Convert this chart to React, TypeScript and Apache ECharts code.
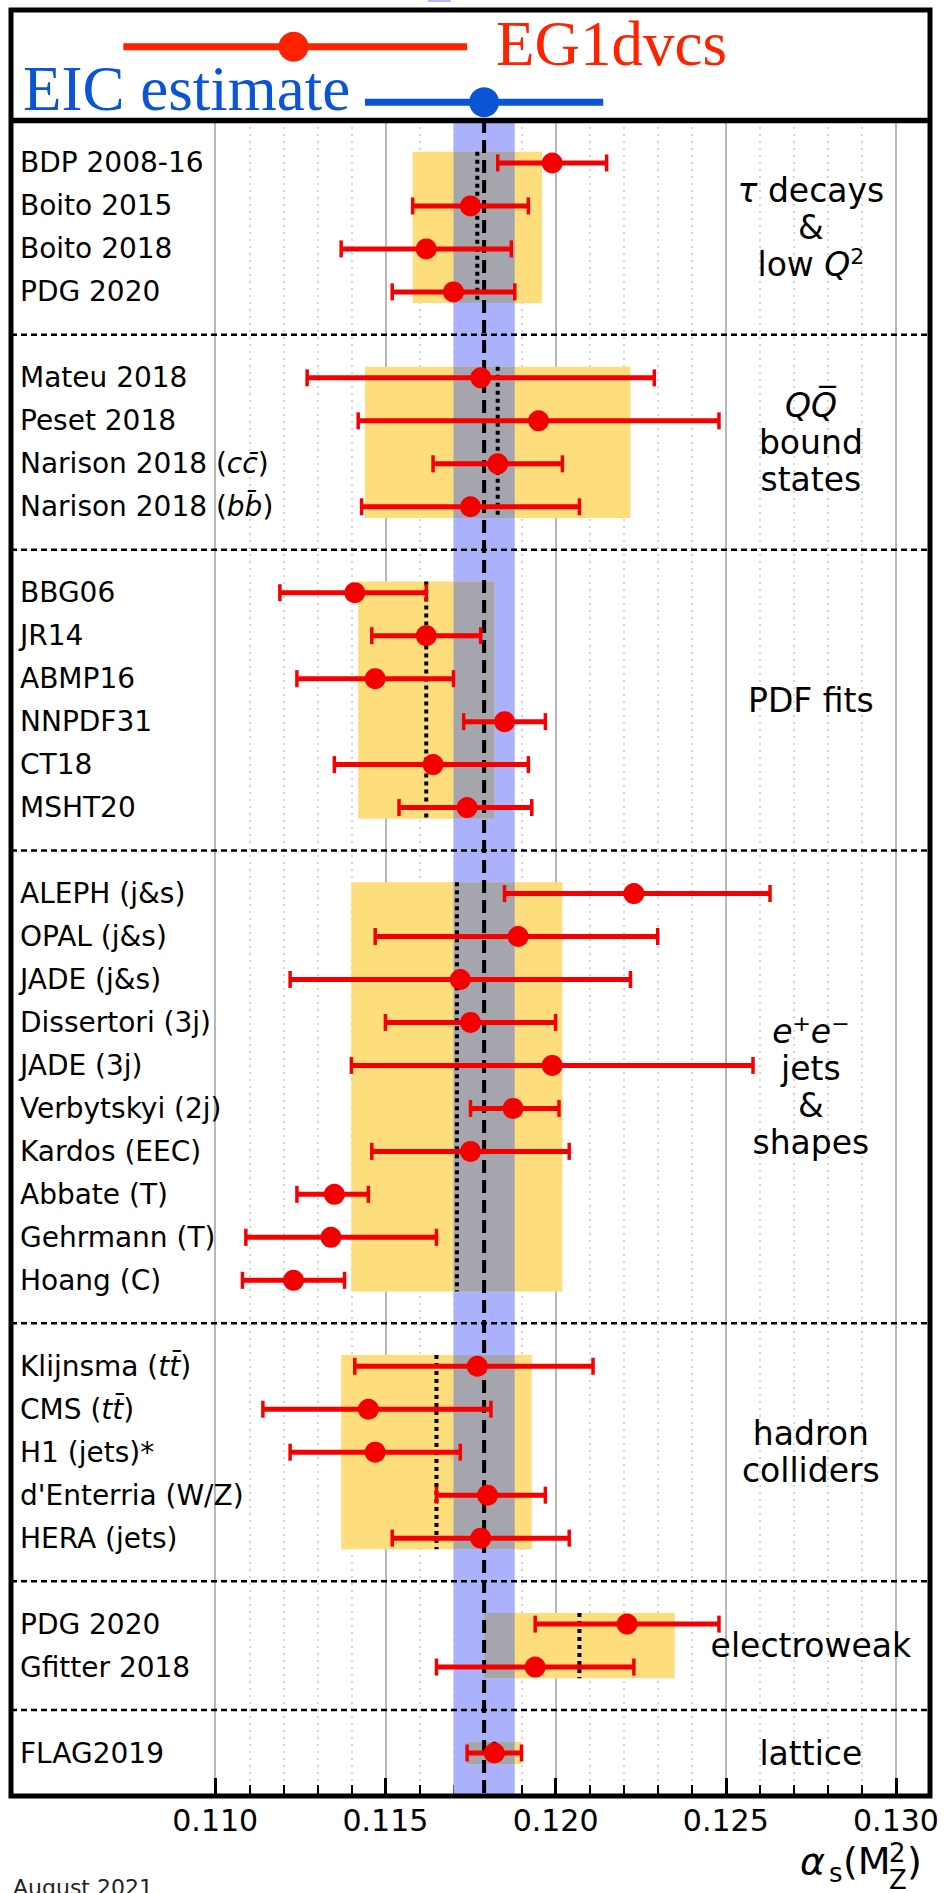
import React, { useEffect, useRef } from 'react';
import * as echarts from 'echarts';

// ---- measurements, top to bottom ----
const measurementLabels = [
  'BDP 2008-16', 'Boito 2015', 'Boito 2018', 'PDG 2020',
  'Mateu 2018', 'Peset 2018', 'Narison 2018 (cc\u0304)', 'Narison 2018 (bb\u0304)',
  'BBG06', 'JR14', 'ABMP16', 'NNPDF31', 'CT18', 'MSHT20',
  'ALEPH (j&s)', 'OPAL (j&s)', 'JADE (j&s)', 'Dissertori (3j)', 'JADE (3j)',
  'Verbytskyi (2j)', 'Kardos (EEC)', 'Abbate (T)', 'Gehrmann (T)', 'Hoang (C)',
  'Klijnsma (tt\u0304)', 'CMS (tt\u0304)', 'H1 (jets)*', "d'Enterria (W/Z)", 'HERA (jets)',
  'PDG 2020', 'Gfitter 2018',
  'FLAG2019',
];
const measurementValues = [
  0.1199, 0.1175, 0.1162, 0.1170,
  0.1178, 0.1195, 0.1183, 0.1175,
  0.1141, 0.1162, 0.1147, 0.1185, 0.1164, 0.1174,
  0.1223, 0.1189, 0.1172, 0.1175, 0.1199, 0.11875, 0.1175, 0.1135, 0.1134, 0.1123,
  0.1177, 0.1145, 0.1147, 0.1180, 0.1178,
  0.1221, 0.1194,
  0.1182,
];
const measurementLow = [
  0.1183, 0.1158, 0.1137, 0.1152,
  0.1127, 0.1142, 0.1164, 0.1143,
  0.1119, 0.1146, 0.1124, 0.1173, 0.1135, 0.1154,
  0.1185, 0.1147, 0.1122, 0.1150, 0.1140, 0.1175, 0.1146, 0.1124, 0.1109, 0.1108,
  0.1141, 0.1114, 0.1122, 0.1165, 0.1152,
  0.1194, 0.1165,
  0.1174,
];
const measurementHigh = [
  0.1215, 0.1192, 0.1187, 0.1188,
  0.1229, 0.1248, 0.1202, 0.1207,
  0.1162, 0.1178, 0.1170, 0.1197, 0.1192, 0.1193,
  0.1263, 0.1230, 0.1222, 0.1200, 0.1258, 0.1201, 0.1204, 0.1145, 0.1165, 0.1138,
  0.1211, 0.1181, 0.1172, 0.1197, 0.1204,
  0.1248, 0.1223,
  0.1190,
];

// ---- categories (pre-averages) ----
const groupSizes = [4, 4, 6, 10, 5, 2, 1];
const groupCaptions = [
  '{it|\u03c4} decays\n&\nlow {it|Q}{sup|2}',
  '{it|QQ\u0305}\nbound\nstates',
  'PDF fits',
  '{it|e}{sup|+}{it|e}{sup|\u2212}\njets\n&\nshapes',
  'hadron\ncolliders',
  'electroweak',
  'lattice',
];
const groupAverages = [0.1177, 0.1183, 0.1162, 0.1171, 0.1165, 0.1207, 0.1182];
const groupErrors = [0.0019, 0.0039, 0.0020, 0.0031, 0.0028, 0.0028, 0.0008];

// ---- world average ----
const worldAverage = 0.1179;
const worldError = 0.0009;

// ---- legend entries ----
const legendLabels = ['EG1dvcs', 'EIC estimate'];
const legendValues = [0.1123, 0.1179];
const legendLow = [0.1073, 0.1144];
const legendHigh = [0.1174, 0.1214];
const legendColors = ['#ff2200', '#0a55d6'];

// ---- axis ----
const X_MIN = 0.104;
const X_MAX = 0.131;
const TICK_MIN = 0.110;
const TICK_MAX = 0.130;
const TICK_STEP = 0.005;

// ---- layout ----
const W = 946;
const H = 1893;
const GRID_LEFT = 11;
const GRID_WIDTH = 919;
const PLOT_TOP = 120;
const PLOT_HEIGHT = 1676;
const BOX_TOP = 10;
const LEGEND_TOP = 19;
const LEGEND_HEIGHT = 111;
const CAPTION_X = 0.1275;
const BOX_PAD = 0.26;
const FONT = "'DejaVu Sans', sans-serif";
const SERIF = "'Liberation Serif', 'Times New Roman', serif";
const RED = '#f50000';

// row positions: one row per measurement, a separator row between categories
const rowOf: number[] = [];
const groupFirst: number[] = [];
const groupLast: number[] = [];
const separatorRows: number[] = [];
let row = 1;
groupSizes.forEach((n, g) => {
  groupFirst.push(row);
  for (let i = 0; i < n; i++) {
    rowOf.push(row);
    row++;
  }
  groupLast.push(row - 1);
  if (g < groupSizes.length - 1) {
    separatorRows.push(row);
    row++;
  }
});
const Y_MAX = row;

const richLabel = (s: string) => s.replace(/\(([a-z][a-z]\u0304)\)/, '({it|$1})');

const TICK_LEFT = GRID_LEFT + ((TICK_MIN - X_MIN) / (X_MAX - X_MIN)) * GRID_WIDTH;
const TICK_WIDTH = ((TICK_MAX - TICK_MIN) / (X_MAX - X_MIN)) * GRID_WIDTH;

function rectRenderer(fill: string) {
  return (_p: any, api: any) => {
    const a = api.coord([api.value(0), api.value(2)]);
    const b = api.coord([api.value(1), api.value(3)]);
    return {
      type: 'rect',
      shape: {
        x: Math.min(a[0], b[0]),
        y: Math.min(a[1], b[1]),
        width: Math.abs(b[0] - a[0]),
        height: Math.abs(b[1] - a[1]),
      },
      style: { fill },
    };
  };
}

function vLineRenderer(stroke: string, lineWidth: number, lineDash: number[]) {
  return (_p: any, api: any) => {
    const a = api.coord([api.value(0), api.value(1)]);
    const b = api.coord([api.value(0), api.value(2)]);
    return {
      type: 'line',
      shape: { x1: a[0], y1: a[1], x2: b[0], y2: b[1] },
      style: { stroke, lineWidth, lineDash },
    };
  };
}

function buildOption() {
  const bandData = [[worldAverage - worldError, worldAverage + worldError, 0, Y_MAX]];
  const boxData = groupAverages.map((m, g) => [
    m - groupErrors[g],
    m + groupErrors[g],
    groupFirst[g] - BOX_PAD,
    groupLast[g] + BOX_PAD,
  ]);
  const overlapData = boxData
    .map((b) => [
      Math.max(b[0], worldAverage - worldError),
      Math.min(b[1], worldAverage + worldError),
      b[2],
      b[3],
    ])
    .filter((b) => b[0] < b[1]);
  const dottedData = groupAverages.map((m, g) => [m, groupFirst[g] - BOX_PAD, groupLast[g] + BOX_PAD]);
  const separatorData = separatorRows.map((r) => [X_MIN, X_MAX, r]);
  const barData = measurementValues.map((_v, i) => [measurementLow[i], measurementHigh[i], rowOf[i]]);
  const pointData = measurementValues.map((v, i) => [v, rowOf[i]]);
  const captionData = groupCaptions.map((_c, g) => [CAPTION_X, (groupFirst[g] + groupLast[g]) / 2]);

  return {
    animation: false,
    backgroundColor: '#ffffff',
    grid: [
      { left: GRID_LEFT, top: PLOT_TOP, width: GRID_WIDTH, height: PLOT_HEIGHT, show: false },
      { left: TICK_LEFT, top: PLOT_TOP, width: TICK_WIDTH, height: PLOT_HEIGHT, show: false },
      { left: GRID_LEFT, top: LEGEND_TOP, width: GRID_WIDTH, height: LEGEND_HEIGHT, show: false },
    ],
    xAxis: [
      { type: 'value', gridIndex: 0, min: X_MIN, max: X_MAX, show: false },
      {
        type: 'value',
        gridIndex: 1,
        min: TICK_MIN,
        max: TICK_MAX,
        interval: TICK_STEP,
        position: 'bottom',
        axisLine: { show: false },
        axisTick: { show: true, inside: true, length: 18, lineStyle: { color: '#000', width: 3 } },
        minorTick: { show: true, splitNumber: 5, length: 11, lineStyle: { color: '#000', width: 2 } },
        splitLine: { show: true, lineStyle: { color: '#b8b8b8', width: 2 } },
        minorSplitLine: { show: true, lineStyle: { color: '#c6c6c6', width: 1.5, type: [2, 5] } },
        axisLabel: {
          margin: 9,
          fontSize: 30,
          fontFamily: FONT,
          color: '#000',
          formatter: (v: number) => v.toFixed(3),
        },
      },
      { type: 'value', gridIndex: 2, min: X_MIN, max: X_MAX, show: false },
    ],
    yAxis: [
      {
        type: 'value',
        gridIndex: 0,
        min: 0,
        max: Y_MAX,
        interval: 1,
        inverse: true,
        axisLine: { show: false },
        axisTick: { show: false },
        splitLine: { show: false },
        axisLabel: {
          inside: true,
          margin: 9,
          fontSize: 28,
          fontFamily: FONT,
          color: '#000',
          formatter: (v: number) => {
            const i = rowOf.indexOf(Math.round(v));
            return i >= 0 ? richLabel(measurementLabels[i]) : '';
          },
          rich: {
            it: { fontStyle: 'italic', fontSize: 28, fontFamily: FONT, color: '#000' },
          },
        },
      },
      { type: 'value', gridIndex: 1, min: 0, max: 1, show: false },
      { type: 'category', gridIndex: 2, data: legendLabels, inverse: true, show: false },
    ],
    series: [
      {
        type: 'custom',
        xAxisIndex: 0,
        yAxisIndex: 0,
        z: 1,
        clip: false,
        encode: { x: [0, 1], y: [2, 3] },
        renderItem: rectRenderer('#abb2fb'),
        data: bandData,
      },
      {
        type: 'custom',
        xAxisIndex: 0,
        yAxisIndex: 0,
        z: 2,
        clip: false,
        encode: { x: [0, 1], y: [2, 3] },
        renderItem: rectRenderer('#fddd7c'),
        data: boxData,
      },
      {
        type: 'custom',
        xAxisIndex: 0,
        yAxisIndex: 0,
        z: 3,
        clip: false,
        encode: { x: [0, 1], y: [2, 3] },
        renderItem: rectRenderer('#a5a5ad'),
        data: overlapData,
      },
      {
        type: 'custom',
        xAxisIndex: 0,
        yAxisIndex: 0,
        z: 4,
        clip: false,
        encode: { x: [0, 1], y: 2 },
        renderItem: (_p: any, api: any) => {
          const a = api.coord([api.value(0), api.value(2)]);
          const b = api.coord([api.value(1), api.value(2)]);
          return {
            type: 'line',
            shape: { x1: a[0], y1: a[1], x2: b[0], y2: b[1] },
            style: { stroke: '#000', lineWidth: 2.5, lineDash: [6, 4] },
          };
        },
        data: separatorData,
      },
      {
        type: 'custom',
        xAxisIndex: 0,
        yAxisIndex: 0,
        z: 5,
        clip: false,
        encode: { x: 0, y: [1, 2] },
        renderItem: vLineRenderer('#000', 4, [13, 7]),
        data: [[worldAverage, 0, Y_MAX]],
      },
      {
        type: 'custom',
        xAxisIndex: 0,
        yAxisIndex: 0,
        z: 5,
        clip: false,
        encode: { x: 0, y: [1, 2] },
        renderItem: vLineRenderer('#000', 4, [4, 4]),
        data: dottedData,
      },
      {
        type: 'custom',
        xAxisIndex: 0,
        yAxisIndex: 0,
        z: 6,
        clip: false,
        encode: { x: [0, 1], y: 2 },
        renderItem: (_p: any, api: any) => {
          const a = api.coord([api.value(0), api.value(2)]);
          const b = api.coord([api.value(1), api.value(2)]);
          const h = 8.5;
          const st = { stroke: RED, lineWidth: 5 };
          const cap = { stroke: RED, lineWidth: 3.5 };
          return {
            type: 'group',
            children: [
              { type: 'line', shape: { x1: a[0], y1: a[1], x2: b[0], y2: b[1] }, style: st },
              { type: 'line', shape: { x1: a[0], y1: a[1] - h, x2: a[0], y2: a[1] + h }, style: cap },
              { type: 'line', shape: { x1: b[0], y1: b[1] - h, x2: b[0], y2: b[1] + h }, style: cap },
            ],
          };
        },
        data: barData,
      },
      {
        type: 'scatter',
        xAxisIndex: 0,
        yAxisIndex: 0,
        z: 7,
        symbol: 'circle',
        symbolSize: 21,
        itemStyle: { color: RED, opacity: 1 },
        data: pointData,
      },
      {
        type: 'scatter',
        xAxisIndex: 0,
        yAxisIndex: 0,
        z: 7,
        symbolSize: 1,
        itemStyle: { color: 'rgba(0,0,0,0)', opacity: 1 },
        label: {
          show: true,
          position: 'inside',
          formatter: (p: any) => groupCaptions[p.dataIndex],
          fontSize: 33,
          fontFamily: FONT,
          color: '#000',
          lineHeight: 37,
          align: 'center',
          verticalAlign: 'middle',
          rich: {
            it: { fontStyle: 'italic', fontSize: 33, lineHeight: 37, fontFamily: FONT, color: '#000' },
            sup: { fontSize: 22, lineHeight: 24, fontFamily: FONT, color: '#000', verticalAlign: 'top' },
          },
        },
        data: captionData,
      },
      {
        type: 'custom',
        xAxisIndex: 2,
        yAxisIndex: 2,
        z: 8,
        clip: false,
        encode: { x: [0, 1], y: 2 },
        renderItem: (p: any, api: any) => {
          const a = api.coord([api.value(0), api.value(2)]);
          const b = api.coord([api.value(1), api.value(2)]);
          return {
            type: 'line',
            shape: { x1: a[0], y1: a[1], x2: b[0], y2: b[1] },
            style: { stroke: legendColors[p.dataIndex], lineWidth: 7 },
          };
        },
        data: legendValues.map((_v, i) => [legendLow[i], legendHigh[i], i]),
      },
      {
        type: 'scatter',
        xAxisIndex: 2,
        yAxisIndex: 2,
        z: 9,
        symbolSize: 30,
        data: legendValues.map((v, i) => ({ value: [v, i], itemStyle: { color: legendColors[i], opacity: 1 } })),
      },
    ],
    graphic: {
      elements: [
        {
          type: 'rect',
          z: 100,
          shape: { x: GRID_LEFT, y: BOX_TOP, width: GRID_WIDTH, height: PLOT_TOP + PLOT_HEIGHT - BOX_TOP },
          style: { fill: 'none', stroke: '#000', lineWidth: 5 },
        },
        {
          type: 'line',
          z: 100,
          shape: { x1: GRID_LEFT, y1: PLOT_TOP + 0.5, x2: GRID_LEFT + GRID_WIDTH, y2: PLOT_TOP + 0.5 },
          style: { stroke: '#000', lineWidth: 5.5 },
        },
        {
          type: 'rect',
          z: 100,
          shape: { x: 428, y: 0, width: 23, height: 2 },
          style: { fill: '#b3baf7' },
        },
        {
          type: 'text',
          z: 101,
          x: 496,
          y: 44,
          style: {
            text: legendLabels[0],
            fontFamily: SERIF,
            fontSize: 63,
            fill: legendColors[0],
            align: 'left',
            verticalAlign: 'middle',
          },
        },
        {
          type: 'text',
          z: 101,
          x: 23,
          y: 89,
          style: {
            text: legendLabels[1],
            fontFamily: SERIF,
            fontSize: 63,
            fill: legendColors[1],
            align: 'left',
            verticalAlign: 'middle',
          },
        },
        {
          type: 'text',
          z: 101,
          x: 800,
          y: 1861,
          style: { text: '\u03b1', fontFamily: FONT, fontStyle: 'italic', fontSize: 38, fill: '#000', verticalAlign: 'middle' },
        },
        {
          type: 'text',
          z: 101,
          x: 829,
          y: 1873,
          style: { text: 's', fontFamily: FONT, fontSize: 26, fill: '#000', verticalAlign: 'middle' },
        },
        {
          type: 'text',
          z: 101,
          x: 843,
          y: 1861,
          style: { text: '(M', fontFamily: FONT, fontSize: 38, fill: '#000', verticalAlign: 'middle' },
        },
        {
          type: 'text',
          z: 101,
          x: 889,
          y: 1853,
          style: { text: '2', fontFamily: FONT, fontSize: 26, fill: '#000', verticalAlign: 'middle' },
        },
        {
          type: 'text',
          z: 101,
          x: 889,
          y: 1880,
          style: { text: 'Z', fontFamily: FONT, fontSize: 26, fill: '#000', verticalAlign: 'middle' },
        },
        {
          type: 'text',
          z: 101,
          x: 907,
          y: 1861,
          style: { text: ')', fontFamily: FONT, fontSize: 38, fill: '#000', verticalAlign: 'middle' },
        },
        {
          type: 'text',
          z: 101,
          x: 13,
          y: 1887,
          style: { text: 'August 2021', fontFamily: FONT, fontSize: 22, fill: '#222', verticalAlign: 'middle' },
        },
      ],
    },
  };
}

export default function App() {
  const ref = useRef<HTMLDivElement>(null);
  useEffect(() => {
    if (!ref.current) return;
    const chart = echarts.init(ref.current, null, { renderer: 'svg' });
    chart.setOption(buildOption() as any);
    return () => chart.dispose();
  }, []);
  return (
    <div
      ref={ref}
      style={{ position: 'absolute', left: 0, top: 0, width: W, height: H, background: '#ffffff' }}
    />
  );
}
